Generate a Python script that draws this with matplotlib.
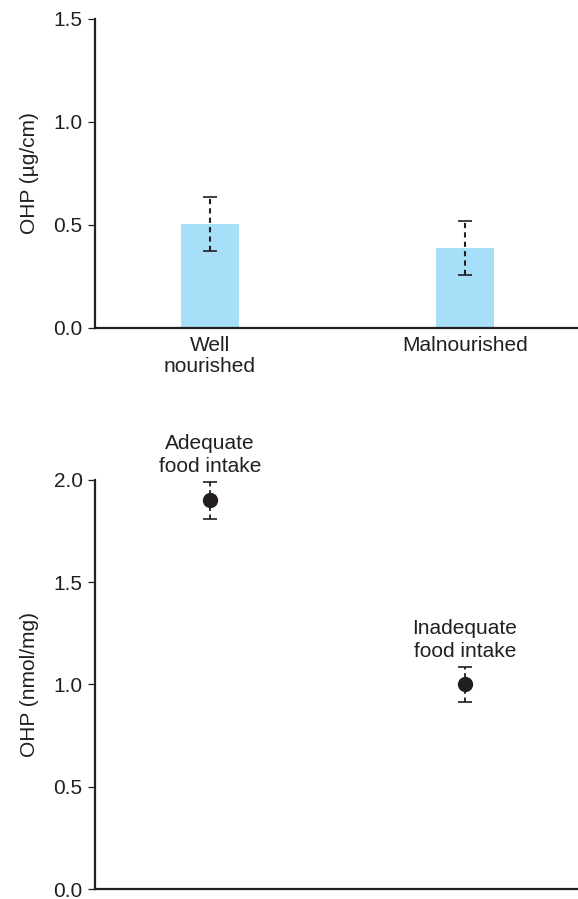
import matplotlib.pyplot as plt
import numpy as np

plt.rcParams['font.family'] = ['Liberation Sans', 'DejaVu Sans']

# top panel: bars
groups = ['Well\nnourished', 'Malnourished']
ohp_ug = [0.505, 0.387]
ohp_ug_err = [0.133, 0.132]

# bottom panel: points
intake = ['Adequate\nfood intake', 'Inadequate\nfood intake']
ohp_nmol = [1.90, 1.00]
ohp_nmol_err = [0.09, 0.087]

ink = '#231f20'
bar_col = '#a8dff8'
dash = (0, (2.5, 2))

fig = plt.figure(figsize=(5.78, 8.99), dpi=100)
ax1 = fig.add_axes([0.1644, 0.6352, 0.8356, 0.3437])
ax2 = fig.add_axes([0.1644, 0.0111, 0.8356, 0.4550])

x = np.arange(len(groups))

# bars
ax1.bar(x, ohp_ug, width=0.227, color=bar_col, zorder=1)
eb = ax1.errorbar(x, ohp_ug, yerr=ohp_ug_err, fmt='none', ecolor=ink,
                  elinewidth=1.5, capsize=5, capthick=1.2, zorder=3)
eb[2][0].set_linestyle(dash)
ax1.set_xlim(-0.451, 1.443)
ax1.set_ylim(0, 1.5)
ax1.set_yticks([0, 0.5, 1.0, 1.5])
ax1.set_yticklabels(['0.0', '0.5', '1.0', '1.5'])
ax1.set_xticks(x)
ax1.set_xticklabels(groups, linespacing=1.1)
ax1.set_ylabel('OHP (µg/cm)', fontsize=15, color=ink, labelpad=10)

# points
eb2 = ax2.errorbar(x, ohp_nmol, yerr=ohp_nmol_err, fmt='o', ms=10, color=ink,
                   ecolor=ink, elinewidth=1.3, capsize=5, capthick=1.2, zorder=3)
eb2[2][0].set_linestyle(dash)
for xi, yi, ei, lab in zip(x, ohp_nmol, ohp_nmol_err, intake):
    ax2.annotate(lab, (xi, yi + ei), xytext=(0, 4), textcoords='offset points',
                 ha='center', va='bottom', fontsize=15, color=ink,
                 linespacing=1.3, annotation_clip=False)
ax2.set_xlim(-0.451, 1.443)
ax2.set_ylim(0, 2.0)
ax2.set_yticks([0, 0.5, 1.0, 1.5, 2.0])
ax2.set_yticklabels(['0.0', '0.5', '1.0', '1.5', '2.0'])
ax2.set_xticks([])
ax2.set_ylabel('OHP (nmol/mg)', fontsize=15, color=ink, labelpad=10)

for ax in (ax1, ax2):
    for s in ['top', 'right']:
        ax.spines[s].set_visible(False)
    for s in ['left', 'bottom']:
        ax.spines[s].set_linewidth(1.6)
        ax.spines[s].set_color(ink)
    ax.tick_params(axis='y', length=5, width=0.9, colors=ink, labelsize=15, pad=4)
    ax.tick_params(axis='x', length=0, labelsize=15, colors=ink, pad=6)

fig.savefig('out.png', dpi=100)
